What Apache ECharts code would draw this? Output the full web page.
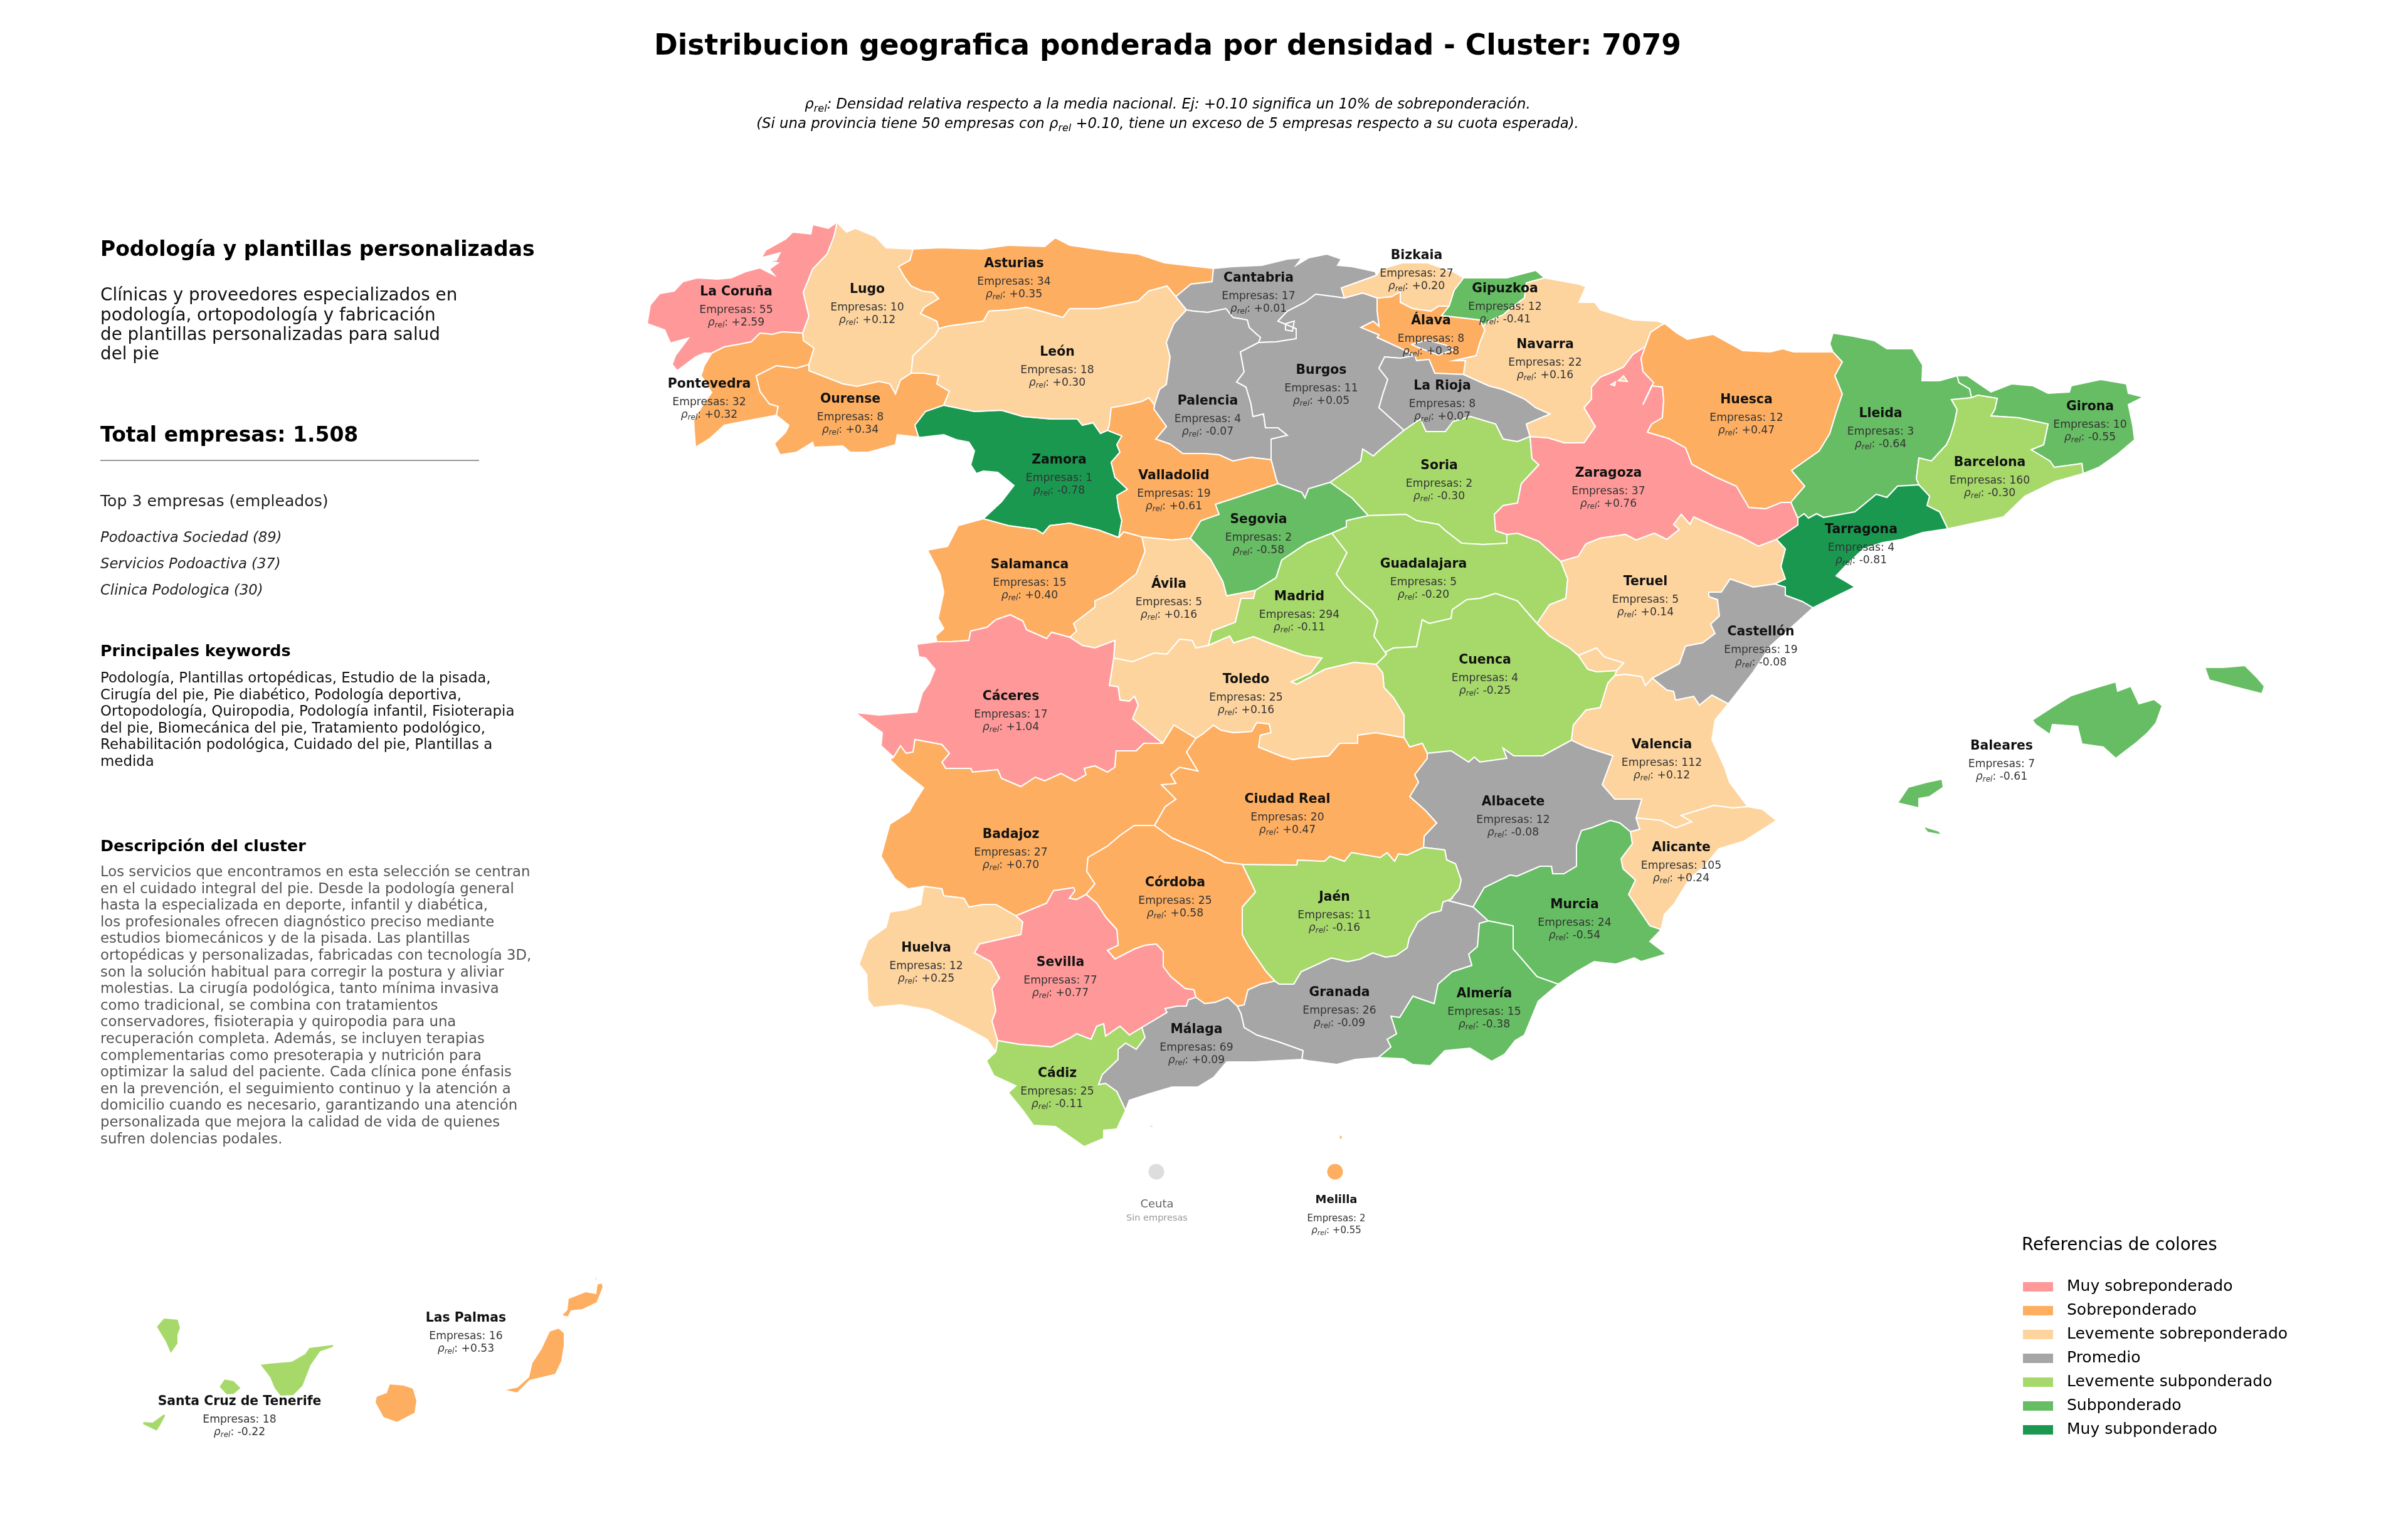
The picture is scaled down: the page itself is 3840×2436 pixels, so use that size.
<!DOCTYPE html>
<html>
<head>
<meta charset="utf-8">
<title>Distribucion geografica</title>
<script src="https://cdn.jsdelivr.net/npm/echarts@6/dist/echarts.min.js"></script>
<style>
html,body{margin:0;padding:0;background:#fff}
#main{width:3840px;height:2436px}
</style>
</head>
<body>
<div id="main"></div>
<script>
// values
const provincias = ['La Coruña','Lugo','Asturias','Pontevedra','Ourense','León','Zamora','Salamanca','Valladolid','Palencia','Cantabria','Álava','Burgos','Bizkaia','Gipuzkoa','Navarra','La Rioja','Soria','Zaragoza','Huesca','Lleida','Girona','Barcelona','Tarragona','Segovia','Ávila','Madrid','Guadalajara','Teruel','Castellón','Valencia','Cuenca','Toledo','Cáceres','Badajoz','Ciudad Real','Albacete','Alicante','Murcia','Córdoba','Jaén','Huelva','Sevilla','Cádiz','Málaga','Granada','Almería','Baleares','Las Palmas','Santa Cruz de Tenerife','Melilla'];
const empresas = [55,10,34,32,8,18,1,15,19,4,17,8,11,27,12,22,8,2,37,12,3,10,160,4,2,5,294,5,5,19,112,4,25,17,27,20,12,105,24,25,11,12,77,25,69,26,15,7,16,18,2];
const rhoRel = [2.59,0.12,0.35,0.32,0.34,0.30,-0.78,0.40,0.61,-0.07,0.01,0.38,0.05,0.20,-0.41,0.16,0.07,-0.30,0.76,0.47,-0.64,-0.55,-0.30,-0.81,-0.58,0.16,-0.11,-0.20,0.14,-0.08,0.12,-0.25,0.16,1.04,0.70,0.47,-0.08,0.24,-0.54,0.58,-0.16,0.25,0.77,-0.11,0.09,-0.09,-0.38,-0.61,0.53,-0.22,0.55];
const tramos = ['Muy sobreponderado','Sobreponderado','Levemente sobreponderado','Promedio','Levemente subponderado','Subponderado','Muy subponderado'];
const tramoColores = ['#ff9999','#fdae61','#fdd49e','#a6a6a6','#a6d96a','#66bd63','#1a9850'];
const tramoCortes = [0.75,0.31,0.10,-0.10,-0.35,-0.75];

const panelDescripcion = ['Clínicas y proveedores especializados en','podología, ortopodología y fabricación','de plantillas personalizadas para salud','del pie'];
const topEmpresas = ['Podoactiva Sociedad (89)','Servicios Podoactiva (37)','Clinica Podologica (30)'];
const keywords = ['Podología, Plantillas ortopédicas, Estudio de la pisada,','Cirugía del pie, Pie diabético, Podología deportiva,','Ortopodología, Quiropodia, Podología infantil, Fisioterapia','del pie, Biomecánica del pie, Tratamiento podológico,','Rehabilitación podológica, Cuidado del pie, Plantillas a','medida'];
const descripcion = ['Los servicios que encontramos en esta selección se centran','en el cuidado integral del pie. Desde la podología general','hasta la especializada en deporte, infantil y diabética,','los profesionales ofrecen diagnóstico preciso mediante','estudios biomecánicos y de la pisada. Las plantillas','ortopédicas y personalizadas, fabricadas con tecnología 3D,','son la solución habitual para corregir la postura y aliviar','molestias. La cirugía podológica, tanto mínima invasiva','como tradicional, se combina con tratamientos','conservadores, fisioterapia y quiropodia para una','recuperación completa. Además, se incluyen terapias','complementarias como presoterapia y nutrición para','optimizar la salud del paciente. Cada clínica pone énfasis','en la prevención, el seguimiento continuo y la atención a','domicilio cuando es necesario, garantizando una atención','personalizada que mejora la calidad de vida de quienes','sufren dolencias podales.'];

// map outline: shared borders, traced by hand, page pixels
const borders = {
cor_coast:'1335,354 1321,364 1296,358 1293,373 1264,370 1253,381 1221,399 1214,411 1244,403 1238,415 1218,415 1241,419 1227,429 1235,439 1212,427 1189,433 1166,443 1144,445 1112,443 1089,449 1075,464 1052,468 1037,486 1032,516 1060,526 1069,547 1098,539 1077,567 1072,581 1080,591 1109,569 1123,563 1135,563',
cor_pon:'1135,563 1155,553 1178,549 1198,545 1212,531 1232,533 1247,529 1280,531',
cor_lug:'1280,531 1290,504 1281,466 1296,429 1319,405 1330,377 1335,354',
lug_coast:'1335,354 1344,364 1350,370 1364,364 1396,377 1413,395 1456,397',
lug_ast:'1456,397 1451,415 1433,425 1442,441 1453,456 1471,464 1488,466 1497,476 1474,490 1468,500 1494,512 1497,524',
lug_leo:'1497,524 1491,535 1471,553 1456,567 1453,595',
lug_our:'1453,595 1436,606 1428,628 1419,612 1402,608 1367,616 1344,612 1316,601 1290,591 1290,581',
lug_pon:'1290,581 1298,555 1281,543 1280,531',
pon_our:'1290,581 1270,587 1238,583 1206,599 1212,624 1227,644 1241,648 1238,662',
pon_coast:'1238,662 1195,670 1155,678 1132,699 1109,713 1106,670 1123,642 1135,626 1123,606 1118,599 1123,583 1135,563',
our_leo:'1453,595 1474,595 1497,599 1494,612 1514,624 1505,646',
our_zam:'1505,646 1476,656 1459,678 1465,697',
our_south:'1465,697 1431,693 1428,709 1385,721 1356,721 1344,711 1298,713 1296,705 1270,721 1244,725 1235,707 1253,689 1258,678 1238,662',
zam_leo:'1505,646 1554,656 1597,654 1631,664 1677,668 1718,668 1726,678 1743,674 1755,691 1766,686',
zam_val:'1766,686 1789,695 1781,709 1786,721 1772,737 1778,761 1798,780 1781,790 1784,812 1789,830 1784,857',
zam_sal:'1784,857 1752,845 1706,834 1674,838 1663,851 1652,844 1608,838 1568,827',
zam_west:'1568,827 1597,800 1617,774 1591,753 1568,751 1557,755 1548,741 1554,719 1545,705 1525,701 1505,693 1471,697 1465,697',
ast_coast:'1456,397 1499,395 1565,397 1608,391 1666,393 1683,379 1706,391 1775,401 1815,405 1857,419 1935,428',
ast_cant:'1935,428 1933,449 1899,453 1875,473',
ast_leo:'1497,524 1511,520 1568,512 1577,496 1608,494 1637,490 1660,496 1695,506 1706,492 1752,492 1815,480 1832,464 1861,456 1875,473',
cant_leo:'1875,473 1892,494',
leo_pal:'1892,494 1872,516 1860,546 1866,569 1860,613 1849,621 1841,646',
leo_val:'1841,646 1832,634 1821,640 1795,646 1772,650 1769,678 1766,686',
cant_coast:'1935,428 1966,425 2012,423 2053,413 2076,411 2067,423 2087,411 2116,405 2139,413 2133,423 2156,425 2193,433 2195,439',
cant_biz:'2195,439 2170,448 2139,459 2144,475',
cant_bur:'2144,475 2098,469 2081,482 2053,496 2038,512 2067,524 2067,540 2035,545 2007,546',
cant_pal:'2007,546 2010,538 2003,532 1992,522 1989,510 1966,506 1955,492 1926,498 1903,496 1892,494',
pal_bur:'2007,546 1978,561 1984,593 1972,609 1987,617 1995,644 1998,664 2015,660 2018,682 2038,682 2053,694 2027,700 2027,733',
pal_val:'2027,733 1995,729 1966,735 1944,725 1921,723 1886,723 1866,708 1843,700 1860,680 1840,652 1841,646',
biz_bur:'2144,475 2173,467 2196,475',
bur_ala:'2196,475 2196,496 2199,520 2190,512 2170,522 2199,534 2196,538 2233,555 2256,567',
bur_rio:'2256,567 2233,571 2208,569 2199,587 2213,605 2205,629 2199,650 2239,686',
bur_sor:'2239,686 2202,716 2190,727 2173,716 2170,735 2150,749 2121,769',
bur_seg:'2121,769 2087,779 2081,794 2076,785 2038,771',
bur_val:'2038,771 2035,763 2027,733',
biz_coast:'2195,439 2202,429 2236,419 2276,419 2317,433 2334,443',
biz_gip:'2334,443 2319,463 2311,488',
biz_ala:'2311,488 2294,488 2282,496 2253,492 2233,482 2233,465 2219,473 2196,475',
gip_coast:'2334,443 2403,443 2449,431 2463,443',
gip_nav:'2463,443 2434,451 2431,475 2406,494 2397,502 2374,512 2365,520',
gip_ala:'2365,520 2360,510 2299,503 2311,488',
ala_nav:'2365,520 2368,526 2360,546 2354,567 2319,575 2337,575 2334,597',
ala_rio:'2334,597 2288,595 2279,573 2259,575 2256,567',
nav_coast:'2463,443 2518,453 2529,457 2518,482 2543,482 2552,494 2604,510 2644,512 2655,516',
nav_hsc:'2655,516 2650,518 2632,530 2624,552',
nav_zar:'2624,552 2604,565 2589,585 2572,593 2552,601 2538,617 2538,636 2526,650 2544,680 2526,706 2495,706 2469,698 2440,696',
nav_rio:'2440,696 2434,676 2472,660 2449,650 2431,636 2397,621 2374,615 2334,597',
rio_sor:'2239,686 2265,668 2274,688 2305,688 2317,672 2345,664 2385,676 2397,700 2420,704 2440,696',
sor_zar:'2440,696 2443,731 2454,741 2426,771 2420,802 2397,806 2383,820 2385,846 2403,852',
sor_gua:'2403,852 2403,866 2365,868 2331,866 2305,846 2294,836 2259,830 2242,820 2182,822',
sor_seg:'2182,822 2156,794 2121,769',
seg_gua:'2182,822 2147,830 2147,840 2124,850',
seg_mad:'2124,850 2084,866 2044,893 2035,921 2002,941',
seg_avi:'2002,941 1961,949 1956,950 1950,927 1930,891 1898,858',
seg_val:'1898,858 1915,830 1944,820 1938,804 1972,793 2038,771',
val_avi:'1898,858 1869,861 1821,856',
val_sal:'1821,856 1792,848 1784,857',
sal_avi:'1821,856 1826,879 1812,915 1772,946 1746,958 1746,968 1712,994 1717,1006 1706,1016',
sal_cac:'1706,1016 1677,1008 1669,1018 1637,1004 1631,990 1611,980 1588,988 1574,1000 1548,1006 1545,1021 1516,1023 1494,1023',
sal_west:'1494,1023 1492,1014 1505,1002 1496,986 1505,944 1499,915 1479,877 1511,871 1528,838 1568,827',
avi_cac:'1706,1016 1726,1029 1746,1033 1778,1021 1776,1049',
avi_tol:'1776,1049 1806,1055 1841,1041 1861,1043 1881,1019 1901,1021 1907,1033 1927,1029',
avi_mad:'1927,1029 1933,1006 1970,992 1979,954 1999,954 2002,941',
mad_tol:'1927,1029 1961,1014 1967,1025 1999,1015 2024,1025 2079,1045 2108,1049 2090,1073 2059,1087 2068,1091 2113,1067 2159,1056 2194,1059',
mad_gua:'2124,850 2148,881 2131,915 2145,935 2165,954 2188,974 2197,990 2191,1014 2211,1043',
mad_cue:'2211,1043 2197,1057 2194,1059',
gua_cue:'2211,1043 2210,1039 2222,1033 2259,1031 2268,988 2279,994 2314,986 2316,972 2339,956 2360,954 2385,946 2420,958 2437,978 2451,994',
gua_ter:'2489,895 2500,923 2497,954 2471,964 2451,994',
gua_zar:'2403,852 2420,850 2454,863 2489,895',
zar_ter:'2833,860 2804,871 2776,856 2735,840 2701,824 2695,836 2681,820 2669,836 2678,844 2658,860 2638,850 2609,861 2592,852 2552,858 2529,867 2517,887 2489,895',
zar_tar:'2867,826 2867,837 2833,860',
zar_lle:'2856,801 2867,826',
hsc_zar:'2624,552 2617,571 2620,592 2637,610 2620,645 2634,615 2651,617 2653,638 2651,666 2634,676 2627,689 2661,699 2688,714 2698,740 2735,760 2769,775 2789,809 2816,811 2840,801 2856,801',
hsc_north:'2655,516 2674,531 2691,541 2732,533 2779,559 2823,561 2843,556 2860,561 2923,561',
hsc_lle:'2923,561 2938,577 2926,599 2938,628 2928,658 2918,691 2901,719 2857,750 2878,775 2860,796 2856,801',
lle_north:'2923,561 2918,548 2923,531 2955,536 2989,543 3009,556 3050,556 3066,582 3065,607 3093,607 3121,599',
lle_gir:'3121,599 3124,610 3141,620 3144,634',
lle_bar:'3144,634 3112,637 3121,653 3117,673 3110,696 3104,709 3090,724 3080,735 3060,730 3056,763 3060,773',
lle_tar:'3060,773 3026,775 3009,793 2992,788 2958,816 2908,825 2897,819 2884,826 2877,819 2867,826',
gir_north:'3121,599 3137,599 3175,625 3208,612 3242,615 3266,627 3300,625 3303,615 3350,605 3391,612 3394,627 3418,633 3394,645 3401,678 3404,701 3377,724 3347,745 3322,755',
bar_gir:'3144,634 3154,630 3185,635 3181,653 3175,663 3219,666 3266,676 3259,709 3239,717 3269,735 3276,745 3320,739 3322,755',
bar_coast:'3322,755 3276,768 3229,791 3195,824 3106,843',
tar_bar:'3060,773 3077,791 3073,806 3093,816 3106,843',
tar_coast:'3106,843 3066,849 3033,860 3002,865 2972,875 2945,900 2928,918 2945,928 2958,936 2931,949 2891,969',
tar_cas:'2891,969 2874,959 2847,949 2847,936 2830,931',
ter_tar:'2833,860 2847,875 2840,903 2847,923 2830,931',
ter_cas:'2830,931 2796,936 2759,923 2745,944 2725,944 2725,951 2739,956 2742,982 2728,995 2735,1010 2715,1025 2688,1030 2678,1058 2635,1081',
ter_val:'2635,1081 2624,1093 2618,1079 2592,1075 2575,1077',
ter_cue:'2575,1077 2578,1069 2589,1057 2558,1047 2546,1033 2517,1045 2503,1033 2471,1014 2451,994',
cue_ter:'2451,994 2471,1014 2503,1033 2517,1045 2532,1067 2546,1071 2578,1069 2575,1077',
ademuz:'2517,1045 2546,1033 2558,1047 2589,1057 2578,1069 2546,1071 2532,1067',
cue_val:'2575,1077 2564,1089 2552,1128 2529,1132 2509,1156 2506,1180',
cue_alb:'2506,1180 2460,1205 2414,1205 2397,1193 2403,1209 2360,1215 2351,1207 2342,1215 2314,1197 2276,1201',
cue_cr:'2276,1201 2268,1185 2248,1191 2239,1176',
cue_tol:'2239,1176 2239,1140 2222,1112 2207,1096 2205,1073 2194,1059',
val_alb:'2506,1180 2529,1191 2572,1205 2555,1251 2575,1274 2618,1274 2609,1304',
val_ali:'2609,1304 2649,1308 2672,1320 2698,1310 2681,1300 2733,1284 2764,1288 2787,1286',
val_coast:'2787,1286 2758,1247 2750,1223 2730,1179 2735,1148 2756,1122',
cas_val:'2756,1122 2730,1108 2710,1124 2701,1110 2672,1116 2669,1102 2658,1100 2635,1081',
cas_coast:'2891,969 2860,997 2823,1030 2796,1071 2756,1122',
ali_alb:'2609,1304 2615,1322 2600,1326',
alb_mur:'2600,1326 2583,1312 2568,1308 2537,1320 2522,1324 2514,1347 2514,1381 2494,1393 2476,1393 2474,1381 2456,1381 2419,1397 2408,1395 2367,1415 2349,1446',
alb_gra:'2349,1446 2310,1436 2313,1434',
jae_alb:'2313,1434 2327,1417 2330,1403 2321,1377 2307,1371 2304,1355 2270,1351',
cr_alb:'2270,1351 2271,1333 2291,1312 2273,1292 2248,1270 2262,1247 2256,1235 2276,1209 2276,1201',
ali_coast:'2787,1286 2810,1290 2833,1308 2781,1341 2741,1353 2718,1381 2695,1400 2669,1442 2654,1458 2649,1482',
ali_mur:'2649,1482 2631,1476 2597,1426 2608,1403 2588,1385 2585,1369 2603,1345 2600,1326',
mur_coast:'2649,1482 2631,1501 2657,1521 2617,1533 2606,1527 2577,1537 2542,1533 2514,1549 2485,1569',
mur_alm:'2485,1569 2451,1557 2413,1513 2413,1476 2393,1472 2373,1468',
gra_mur:'2373,1468 2349,1446',
alm_coast:'2485,1569 2453,1596 2431,1650 2416,1659 2399,1681 2379,1692 2344,1671 2304,1675 2281,1699 2253,1697 2238,1688 2198,1686',
gra_alm:'2198,1686 2218,1669 2212,1657 2227,1648 2218,1620 2232,1622 2253,1588 2287,1600 2293,1569 2316,1549 2347,1539 2342,1521 2356,1509 2359,1472 2373,1468',
gra_coast:'2198,1686 2161,1689 2132,1697 2086,1691 2076,1689',
mal_gra:'2076,1689 2078,1675 2039,1661 2004,1650 1984,1638 1979,1616 1973,1604',
cor_gra:'1973,1604 1984,1602 1990,1578 2010,1569 2033,1564',
jae_gra:'2033,1564 2040,1569 2063,1569 2075,1549 2123,1527 2149,1533 2169,1529 2189,1519 2210,1526 2227,1523 2244,1511 2247,1496 2261,1470 2281,1456 2298,1452 2301,1438 2313,1434',
cr_jae:'1981,1378 2068,1379 2069,1371 2112,1373 2121,1365 2144,1373 2155,1359 2201,1367 2212,1359 2224,1373 2230,1361 2244,1363 2270,1351',
jae_cor:'2033,1564 2019,1549 1990,1507 1981,1490 1981,1446 2002,1422 1993,1403 1981,1378',
tol_cr:'2239,1176 2194,1168 2165,1172 2165,1185 2136,1185 2119,1205 2073,1209 2062,1211 2042,1205 2007,1191 2010,1172 2027,1168 2024,1154 2004,1152 1996,1166 1967,1168 1947,1164 1935,1156 1918,1170 1907,1177',
bad_cr:'1907,1177 1892,1199 1910,1229 1881,1223 1867,1235 1875,1249 1852,1251 1875,1274 1858,1286 1841,1316',
cor_cr:'1841,1316 1869,1336 1924,1359 1953,1375 1981,1378',
tol_bad:'1907,1177 1892,1168 1872,1156 1854,1185',
tol_cac:'1854,1185 1806,1146 1815,1124 1809,1110 1801,1118 1786,1116 1783,1095 1769,1093 1776,1049',
cac_bad:'1854,1185 1824,1185 1812,1197 1780,1197 1778,1223 1766,1231 1746,1221 1729,1225 1732,1235 1714,1245 1692,1233 1666,1245 1651,1239 1628,1254 1597,1241 1591,1227 1551,1231 1548,1225 1508,1225 1502,1215 1514,1201 1502,1187 1459,1179 1456,1199 1445,1201 1436,1189 1425,1207',
cac_west:'1425,1207 1405,1189 1407,1168 1390,1156 1364,1136 1402,1140 1462,1135 1471,1104 1482,1089 1491,1067 1476,1049 1465,1047 1462,1027 1494,1023',
bad_cor:'1841,1316 1809,1316 1786,1332 1766,1349 1735,1367 1733,1389 1746,1409 1732,1426',
bad_sev:'1732,1426 1717,1434 1705,1432 1714,1420 1712,1415 1680,1420 1669,1440 1620,1460',
bad_hlv:'1620,1460 1588,1442 1568,1442 1545,1446 1537,1432 1505,1428 1502,1417 1473,1413',
bad_west:'1473,1413 1448,1417 1427,1401 1405,1365 1419,1314 1450,1294 1459,1278 1473,1256 1436,1227 1419,1211 1425,1207',
cor_mal:'1973,1604 1958,1590 1938,1598 1921,1600 1907,1590',
cor_sev:'1907,1590 1904,1578 1890,1576 1867,1557 1855,1541 1855,1517 1844,1505 1826,1507 1809,1513 1778,1529 1766,1515 1783,1507 1781,1482 1763,1462 1749,1440 1732,1426',
sev_mal:'1907,1590 1895,1594 1892,1604 1878,1604 1858,1608 1861,1614 1821,1638',
sev_cad:'1821,1638 1801,1650 1786,1636 1763,1652 1760,1632 1749,1636 1740,1657 1717,1648 1706,1655 1677,1669 1626,1665 1591,1659',
hlv_sev:'1620,1460 1631,1470 1628,1490 1562,1505 1554,1519 1580,1533 1594,1559 1582,1576 1588,1612 1582,1628 1591,1659',
hlv_cad:'1591,1659 1588,1677',
hlv_coast:'1588,1677 1574,1657 1539,1638 1482,1610 1436,1602 1393,1606 1384,1594 1382,1553 1370,1537 1384,1499 1413,1478 1419,1454 1445,1450 1468,1442 1473,1413',
cad_mal:'1821,1638 1826,1654 1812,1673 1795,1663 1783,1673 1783,1689 1758,1713 1752,1729 1763,1727 1781,1740 1795,1770',
cad_coast:'1795,1770 1781,1800 1760,1802 1760,1815 1729,1828 1683,1796 1648,1794 1631,1770 1608,1742 1620,1731 1585,1715 1573,1691 1588,1677',
mal_coast:'2076,1689 1999,1693 1956,1693 1936,1717 1910,1733 1869,1733 1832,1744 1801,1754 1795,1770',
trevino:'2251,549 2276,542 2305,550 2317,558 2294,566 2259,553',
bur_islote:'2050,516 2064,512 2061,528 2050,526',
nav_islote1:'2581,607 2589,599 2595,608',
nav_islote2:'2569,613 2576,609 2575,615',
mallorca:'3241,1148 3272,1128 3303,1109 3340,1097 3374,1087 3377,1102 3398,1094 3411,1122 3435,1115 3448,1125 3438,1153 3425,1168 3408,1183 3374,1209 3354,1191 3320,1186 3313,1158 3273,1155 3269,1171 3246,1155',
menorca:'3516,1064 3546,1064 3580,1061 3600,1081 3611,1094 3607,1106 3560,1094 3523,1084',
ibiza:'3043,1255 3073,1247 3097,1242 3099,1255 3077,1270 3060,1273 3060,1288 3026,1280 3033,1270',
formentera:'3066,1317 3092,1325 3096,1331 3074,1327',
la_palma:'261,2101 284,2103 288,2117 284,2128 284,2142 272,2159 264,2140 249,2115',
tenerife:'414,2175 430,2173 465,2170 486,2158 493,2148 532,2143 532,2148 511,2155 496,2177 483,2210 468,2225 447,2226 437,2213 430,2196',
gomera:'358,2198 373,2201 385,2213 373,2223 361,2224 349,2211',
hierro:'261,2254 265,2256 256,2273 250,2282 227,2271 228,2266 243,2267',
gran_canaria:'621,2206 644,2208 659,2213 665,2233 662,2253 633,2268 611,2260 598,2236 600,2226 616,2220',
fuerte:'876,2122 891,2117 900,2125 900,2145 896,2170 886,2191 845,2201 825,2221 802,2216 825,2211 843,2195 848,2173 863,2150',
lanzarote:'906,2070 934,2059 950,2062 952,2047 960,2045 962,2052 952,2077 929,2088 911,2090 906,2100 895,2097 904,2088',
graciosa:'949,2036 953,2037 950,2045',
ceuta:'1831,1792 1838,1794 1840,1799 1834,1797',
melilla:'2138,1808 2141,1813 2138,1818 2135,1813'
};

// rings of each province, by border name; '-' walks a border backwards
const regiones = {
'La Coruña':[['cor_coast','cor_pon','cor_lug']],
'Lugo':[['lug_coast','lug_ast','lug_leo','lug_our','lug_pon','cor_lug']],
'Pontevedra':[['cor_pon','-lug_pon','pon_our','pon_coast']],
'Ourense':[['-pon_our','-lug_our','our_leo','our_zam','our_south']],
'Zamora':[['-our_zam','zam_leo','zam_val','zam_sal','zam_west']],
'Asturias':[['ast_coast','ast_cant','-ast_leo','-lug_ast']],
'León':[['ast_leo','cant_leo','leo_pal','leo_val','-zam_leo','-our_leo','-lug_leo']],
'Cantabria':[['cant_coast','cant_biz','cant_bur','cant_pal','-cant_leo','-ast_cant']],
'Palencia':[['-cant_pal','pal_bur','pal_val','-leo_pal']],
'Álava':[['-biz_ala','-gip_ala','ala_nav','ala_rio','-bur_ala']],
'Burgos':[['-cant_bur','biz_bur','bur_ala','bur_rio','bur_sor','bur_seg','bur_val','-pal_bur'],['trevino'],['bur_islote']],
'Bizkaia':[['biz_coast','biz_gip','biz_ala','-biz_bur','-cant_biz']],
'Gipuzkoa':[['gip_coast','gip_nav','gip_ala','-biz_gip']],
'La Rioja':[['-ala_rio','-nav_rio','-rio_sor','-bur_rio']],
'Soria':[['rio_sor','sor_zar','sor_gua','sor_seg','-bur_sor']],
'Segovia':[['-sor_seg','seg_gua','seg_mad','seg_avi','seg_val','-bur_seg']],
'Valladolid':[['-leo_val','-pal_val','-bur_val','-seg_val','val_avi','val_sal','-zam_val']],
'Salamanca':[['-zam_sal','-val_sal','sal_avi','sal_cac','sal_west']],
'Ávila':[['-val_avi','-seg_avi','-avi_mad','-avi_tol','-avi_cac','-sal_avi']],
'Madrid':[['-seg_mad','mad_gua','mad_cue','-mad_tol','avi_mad']],
'Guadalajara':[['-sor_gua','gua_zar','gua_ter','-gua_cue','-mad_gua','-seg_gua']],
'Zaragoza':[['-nav_zar','hsc_zar','zar_lle','zar_tar','zar_ter','-gua_zar','-sor_zar']],
'Navarra':[['-gip_nav','nav_coast','nav_hsc','nav_zar','nav_rio','-ala_nav'],['nav_islote1'],['nav_islote2']],
'Huesca':[['-nav_hsc','hsc_north','hsc_lle','-hsc_zar']],
'Lleida':[['lle_north','lle_gir','lle_bar','lle_tar','-zar_lle','-hsc_lle']],
'Girona':[['gir_north','-bar_gir','-lle_gir']],
'Barcelona':[['bar_gir','bar_coast','-tar_bar','-lle_bar']],
'Tarragona':[['tar_bar','tar_coast','tar_cas','-ter_tar','-zar_tar','-lle_tar']],
'Teruel':[['-zar_ter','ter_tar','ter_cas','ter_val','ter_cue','-gua_ter']],
'Cuenca':[['gua_cue','cue_ter','cue_val','cue_alb','cue_cr','cue_tol','-mad_cue']],
'Valencia':[['ter_val','cue_val','val_alb','val_ali','val_coast','cas_val'],['ademuz']],
'Castellón':[['-ter_cas','-tar_cas','cas_coast','cas_val']],
'Albacete':[['-cue_alb','val_alb','ali_alb','alb_mur','alb_gra','jae_alb','cr_alb']],
'Alicante':[['val_ali','ali_coast','ali_mur','-ali_alb']],
'Murcia':[['-ali_mur','mur_coast','mur_alm','gra_mur','-alb_mur']],
'Almería':[['alm_coast','gra_alm','-mur_alm']],
'Granada':[['-alb_gra','-gra_mur','-gra_alm','gra_coast','mal_gra','cor_gra','jae_gra']],
'Jaén':[['cr_jae','-jae_alb','-jae_gra','jae_cor']],
'Ciudad Real':[['tol_cr','bad_cr','cor_cr','cr_jae','cr_alb','cue_cr']],
'Toledo':[['tol_cr','tol_bad','tol_cac','avi_tol','mad_tol','-cue_tol']],
'Cáceres':[['-tol_cac','cac_bad','cac_west','-sal_cac','avi_cac']],
'Badajoz':[['-cac_bad','-tol_bad','bad_cr','bad_cor','bad_sev','bad_hlv','bad_west']],
'Córdoba':[['cor_cr','-jae_cor','-cor_gra','cor_mal','cor_sev','-bad_cor']],
'Huelva':[['-bad_hlv','hlv_sev','hlv_cad','hlv_coast']],
'Sevilla':[['-bad_sev','-cor_sev','sev_mal','sev_cad','-hlv_sev']],
'Cádiz':[['-sev_cad','cad_mal','cad_coast','-hlv_cad']],
'Málaga':[['-cor_mal','-mal_gra','mal_coast','-cad_mal','-sev_mal']],
'Baleares':[['mallorca'],['menorca'],['ibiza'],['formentera']],
'Santa Cruz de Tenerife':[['la_palma'],['tenerife'],['gomera'],['hierro']],
'Las Palmas':[['gran_canaria'],['fuerte'],['lanzarote'],['graciosa']],
'Ceuta':[['ceuta']],
'Melilla':[['melilla']]
};

// label anchors (centre of the label block)
const anclas = {
'La Coruña':[1174,486],'Lugo':[1383,482],'Asturias':[1617,441],'León':[1686,582],'Pontevedra':[1131,633],'Ourense':[1356,657],'Zamora':[1689,754],'Salamanca':[1642,921],'Valladolid':[1872,779],'Palencia':[1926,660],'Cantabria':[2007,464],'Burgos':[2107,611],'Bizkaia':[2259,428],'Gipuzkoa':[2400,481],'Álava':[2282,532],'Navarra':[2464,570],'La Rioja':[2300,636],'Soria':[2295,763],'Zaragoza':[2565,775],'Segovia':[2007,849],'Ávila':[1864,952],'Madrid':[2072,972],'Guadalajara':[2270,920],'Teruel':[2624,948],'Huesca':[2785,658],'Lleida':[2999,680],'Girona':[3333,669],'Barcelona':[3173,758],'Tarragona':[2968,865],'Castellón':[2808,1028],'Baleares':[3192,1210],'Valencia':[2650,1208],'Cuenca':[2368,1073],'Albacete':[2413,1299],'Alicante':[2681,1372],'Toledo':[1987,1104],'Cáceres':[1612,1131],'Ciudad Real':[2053,1295],'Badajoz':[1612,1351],'Córdoba':[1874,1428],'Jaén':[2128,1451],'Huelva':[1477,1532],'Sevilla':[1691,1555],'Granada':[2136,1603],'Málaga':[1908,1662],'Cádiz':[1686,1732],'Murcia':[2511,1463],'Almería':[2367,1605],'Las Palmas':[743,2122],'Santa Cruz de Tenerife':[382,2255],'Ceuta':[1845,1928],'Melilla':[2131,1932]
};

// round markers under the map for the two cities
const marcadores = {Ceuta:[1844,1868,13.5],Melilla:[2129,1868,13.5]};

function arcPts(key){
    let rev = key[0]==='-';
    let pts = borders[rev?key.slice(1):key].split(' ').map(function(p){return p.split(',').map(Number);});
    return rev?pts.reverse():pts;
}
function ring(parts){
    let out = [];
    parts.forEach(function(k){
        arcPts(k).forEach(function(p){
            let last = out[out.length-1];
            if(!last || last[0]!==p[0] || last[1]!==p[1]) out.push(p);
        });
    });
    return out;
}
function circle(m){
    let pts = [];
    for(let i=0;i<36;i++){
        let a = i/36*Math.PI*2;
        pts.push([m[0]+m[2]*Math.cos(a),m[1]+m[2]*Math.sin(a)]);
    }
    return pts;
}
let features = Object.keys(regiones).map(function(name){
    let polys = regiones[name].map(function(r){return [ring(r)];});
    if(marcadores[name]) polys.push([circle(marcadores[name])]);
    return {type:'Feature',properties:{name:name,cp:anclas[name]},geometry:{type:'MultiPolygon',coordinates:polys}};
});
echarts.registerMap('espana',{type:'FeatureCollection',features:features});

function signo(v){return (v>=0?'+':'-')+Math.abs(v).toFixed(2);}

let FONT = 'DejaVu Sans';
function txt(x,y,text,size,color,weight,style,align){
    return {type:'text',silent:true,x:x,y:y,style:{text:text,fill:color||'#000',font:(style||'normal')+' '+(weight||'normal')+' '+size+'px "'+FONT+'"',align:align||'left',verticalAlign:'middle'}};
}
function richTxt(x,y,text){
    return {type:'text',silent:true,x:x,y:y,style:{text:text,align:'center',verticalAlign:'middle',fill:'#000',
        rich:{i:{fontFamily:FONT,fontStyle:'italic',fontSize:22.75,color:'#000',lineHeight:30},sb:{fontFamily:FONT,fontStyle:'italic',fontSize:16,color:'#000',lineHeight:30,verticalAlign:'bottom'}}}};
}

let graphics = [
    txt(1862,75,'Distribucion geografica ponderada por densidad - Cluster: 7079',45.5,'#000','bold','normal','center'),
    richTxt(1862,167,'{i|ρ}{sb|rel}{i|: Densidad relativa respecto a la media nacional. Ej: +0.10 significa un 10% de sobreponderación.}'),
    richTxt(1862,198,'{i|(Si una provincia tiene 50 empresas con ρ}{sb|rel}{i| +0.10, tiene un exceso de 5 empresas respecto a su cuota esperada).}'),
    txt(160,399,'Podología y plantillas personalizadas',33,'#000','bold'),
    txt(160,695,'Total empresas: 1.508',33,'#000','bold'),
    {type:'line',silent:true,shape:{x1:160,y1:734,x2:764,y2:734},style:{stroke:'#999',lineWidth:2}},
    txt(160,800,'Top 3 empresas (empleados)',25.2,'#222'),
    txt(160,1039,'Principales keywords',25.4,'#000','bold'),
    txt(160,1350,'Descripción del cluster',25.4,'#000','bold'),
    txt(3224,1986,'Referencias de colores',27.6,'#000')
];
panelDescripcion.forEach(function(l,i){graphics.push(txt(160,472+i*31.3,l,27.8,'#111'));});
topEmpresas.forEach(function(l,i){graphics.push(txt(160,858+i*42,l,22.7,'#222','normal','italic'));});
keywords.forEach(function(l,i){graphics.push(txt(160,1082+i*26.6,l,22.9,'#111'));});
descripcion.forEach(function(l,i){graphics.push(txt(160,1391+i*26.6,l,22.8,'#555'));});

let seriesData = provincias.map(function(n,i){return {name:n,value:rhoRel[i]};});
seriesData.push({name:'Ceuta',value:null,itemStyle:{areaColor:'#dddddd'}});

let piezas = tramos.map(function(t,i){
    let p = {label:t,color:tramoColores[i]};
    if(i>0) p.max = tramoCortes[i-1];
    if(i<tramoCortes.length) p.min = tramoCortes[i];
    return p;
});

let chart = echarts.init(document.getElementById('main'),null,{renderer:'canvas',width:3840,height:2436});
chart.setOption({
    backgroundColor:'#fff',
    animation:false,
    graphic:graphics,
    visualMap:{
        type:'piecewise',
        seriesIndex:0,
        pieces:piezas,
        left:3226,
        top:2039,
        orient:'vertical',
        inverse:false,
        align:'left',
        itemWidth:48,
        itemHeight:15,
        itemGap:13,
        itemSymbol:'rect',
        textGap:22,
        hoverLink:false,
        selectedMode:false,
        padding:0,
        textStyle:{fontFamily:FONT,fontSize:25,color:'#000'}
    },
    series:[{
        type:'map',
        map:'espana',
        silent:true,
        selectedMode:false,
        showLegendSymbol:false,
        projection:{project:function(p){return p;},unproject:function(p){return p;}},
        boundingCoords:[[0,0],[3840,2436]],
        left:0,top:0,width:3840,height:2436,
        roam:false,
        itemStyle:{areaColor:'#dddddd',borderColor:'#fff',borderWidth:2},
        emphasis:{disabled:true},
        label:{
            show:true,
            fontFamily:FONT,
            formatter:function(p){
                if(p.name==='Ceuta') return '{cn|Ceuta}\n{cs|Sin empresas}';
                let i = provincias.indexOf(p.name);
                let v = '{v|Empresas: '+empresas[i]+'}';
                let r = '{r|ρ}{s|rel}{v|: '+signo(rhoRel[i])+'}';
                if(p.name==='Melilla') return '{mn|Melilla}\n{me|Empresas: '+empresas[i]+'}\n{mr|ρ}{ms|rel}{me|: '+signo(rhoRel[i])+'}';
                return '{n|'+p.name+'}\n'+v+'\n'+r;
            },
            rich:{
                n:{fontFamily:FONT,fontWeight:'bold',fontSize:20.4,color:'#111',lineHeight:38},
                v:{fontFamily:FONT,fontSize:17.2,color:'#333',lineHeight:20},
                r:{fontFamily:FONT,fontStyle:'italic',fontSize:17.2,color:'#333',lineHeight:20},
                s:{fontFamily:FONT,fontStyle:'italic',fontSize:12,color:'#333',lineHeight:20,verticalAlign:'bottom'},
                cn:{fontFamily:FONT,fontSize:18,color:'#666',lineHeight:28},
                cs:{fontFamily:FONT,fontSize:14.5,color:'#999',lineHeight:16},
                mn:{fontFamily:FONT,fontWeight:'bold',fontSize:18,color:'#111',lineHeight:41},
                me:{fontFamily:FONT,fontSize:15,color:'#333',lineHeight:19},
                mr:{fontFamily:FONT,fontStyle:'italic',fontSize:15,color:'#333',lineHeight:19},
                ms:{fontFamily:FONT,fontStyle:'italic',fontSize:11,color:'#333',lineHeight:19,verticalAlign:'bottom'}
            }
        },
        data:seriesData
    }]
});
</script>
</body>
</html>
